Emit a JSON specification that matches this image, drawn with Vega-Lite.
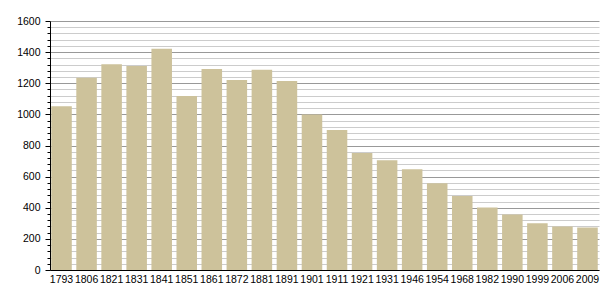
{
  "$schema": "https://vega.github.io/schema/vega-lite/v6.json",
  "width": 549,
  "height": 249,
  "autosize": {"type": "none"},
  "padding": {"left": 50, "top": 21, "right": 6, "bottom": 30},
  "background": "white",
  "config": {
    "view": {"stroke": null},
    "font": "Liberation Sans",
    "axis": {"labelFont": "Liberation Sans", "labelFontSize": 10.5, "labelColor": "#000"}
  },
  "data": {
    "values": [
      {"year": "1793", "pop": 1052},
      {"year": "1806", "pop": 1236},
      {"year": "1821", "pop": 1322},
      {"year": "1831", "pop": 1311},
      {"year": "1841", "pop": 1421},
      {"year": "1851", "pop": 1118},
      {"year": "1861", "pop": 1292},
      {"year": "1872", "pop": 1221},
      {"year": "1881", "pop": 1286},
      {"year": "1891", "pop": 1215},
      {"year": "1901", "pop": 1000},
      {"year": "1911", "pop": 899},
      {"year": "1921", "pop": 752},
      {"year": "1931", "pop": 705},
      {"year": "1946", "pop": 647},
      {"year": "1954", "pop": 557},
      {"year": "1968", "pop": 475},
      {"year": "1982", "pop": 402},
      {"year": "1990", "pop": 357},
      {"year": "1999", "pop": 301},
      {"year": "2006", "pop": 279},
      {"year": "2009", "pop": 273}
    ]
  },
  "mark": {"type": "bar", "color": "#cdc29b"},
  "encoding": {
    "x": {
      "field": "year",
      "type": "ordinal",
      "sort": null,
      "scale": {"paddingInner": 0.18, "paddingOuter": 0.05},
      "axis": {
        "title": null,
        "labelAngle": 0,
        "ticks": false,
        "domainColor": "#000",
        "labelPadding": 4
      }
    },
    "y": {
      "field": "pop",
      "type": "quantitative",
      "scale": {"domain": [0, 1600], "nice": false},
      "axis": {
        "title": null,
        "values": [0,40,80,120,160,200,240,280,320,360,400,440,480,520,560,600,640,680,720,760,800,840,880,920,960,1000,1040,1080,1120,1160,1200,1240,1280,1320,1360,1400,1440,1480,1520,1560,1600],
        "labelExpr": "datum.value % 200 === 0 ? format(datum.value, 'd') : ''",
        "labelOverlap": false,
        "labelPadding": 5,
        "grid": true,
        "gridColor": {"condition": {"test": "datum.value % 200 === 0", "value": "#999999"}, "value": "#cccccc"},
        "gridWidth": 1,
        "tickColor": "#000",
        "tickSize": {"condition": {"test": "datum.value % 200 === 0", "value": 5}, "value": 3},
        "domainColor": "#000"
      }
    }
  }
}
